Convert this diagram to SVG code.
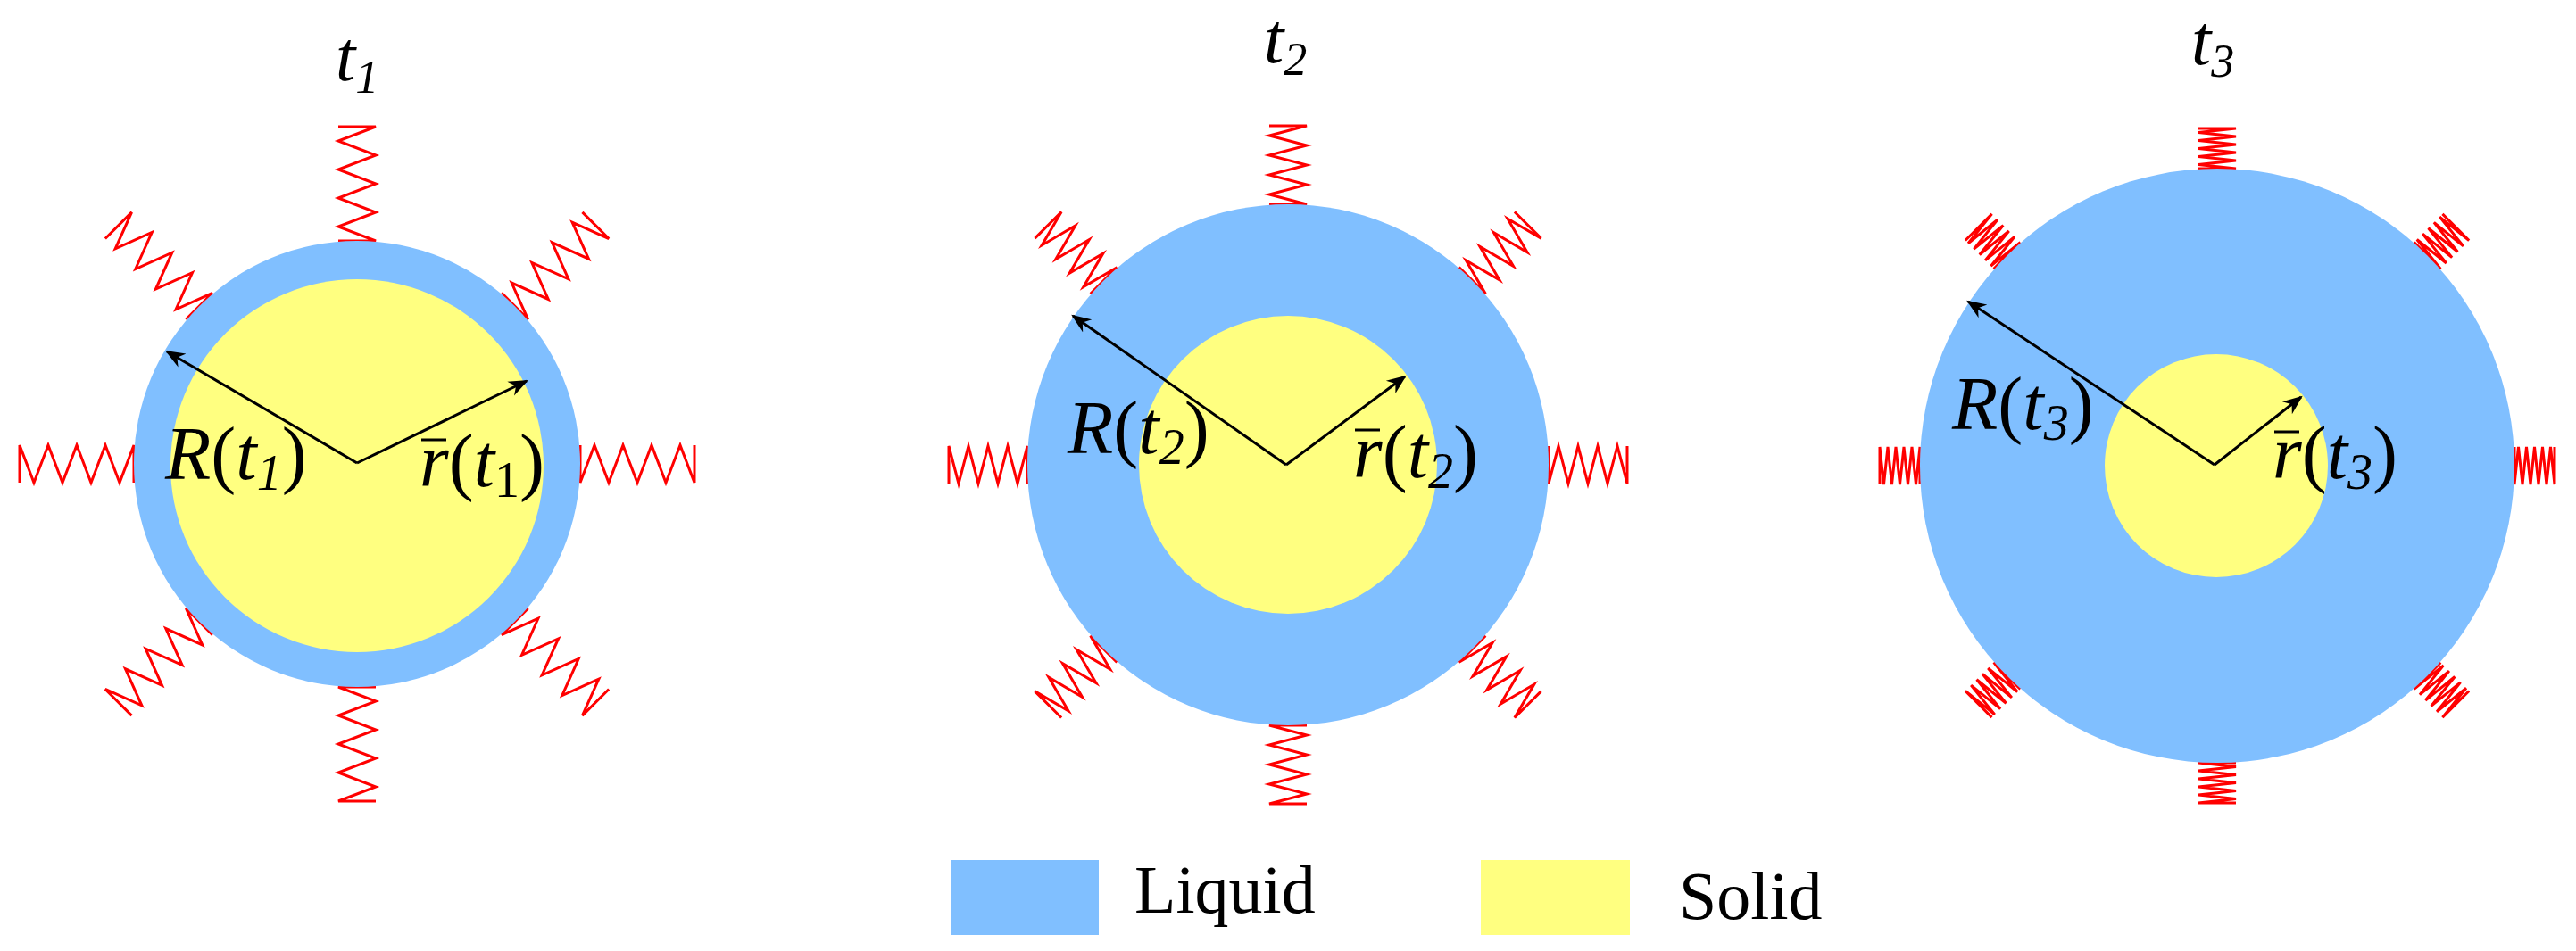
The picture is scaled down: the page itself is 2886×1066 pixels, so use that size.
<svg xmlns="http://www.w3.org/2000/svg" width="2886" height="1066" viewBox="0 0 2886 1066">
<style>
.liq{fill:#80bfff}.sol{fill:#ffff80}
.sp{fill:none;stroke:#ff0000;stroke-width:3;stroke-linejoin:miter}
.ar{stroke:#000;stroke-width:3;fill:none}
.ov{stroke:#000;stroke-width:3}
.i{font-style:italic}
.f{font-family:'Liberation Serif','Times New Roman','DejaVu Serif',serif}
</style>
<defs>
<marker id="ah" viewBox="0 0 10 10" refX="9" refY="5" markerWidth="22" markerHeight="22" markerUnits="userSpaceOnUse" orient="auto"><path d="M0,1 L10,5 L0,9 L3,5 Z" fill="#000"/></marker>
<path id="s1" class="sp" d="M0,-21 L0,21 L16,-21 L32,21 L48,-21 L64,21 L80,-21 L96,21 L112,-21 L128,21 L128,-21"/>
<path id="s2" class="sp" d="M0,-21 L0,21 L11,-21 L22,21 L33,-21 L44,21 L55,-21 L66,21 L77,-21 L88,21 L88,-21"/>
<path id="s3" class="sp" d="M0,-21 L0,21 L4.5,-21 L9,21 L13.5,-21 L18,21 L22.5,-21 L27,21 L31.5,-21 L36,21 L40.5,-21 L45,21 L45,-21"/>
</defs>

<g id="stage1">
<text class="f" font-size="80" font-style="italic" x="376" y="90">t<tspan font-size="52" dy="14">1</tspan></text>
<g id="springs1" transform="translate(400,520)">
<use href="#s1" transform="rotate(0) translate(250,0)"/>
<use href="#s1" transform="rotate(45) translate(250,0)"/>
<use href="#s1" transform="rotate(90) translate(250,0)"/>
<use href="#s1" transform="rotate(135) translate(250,0)"/>
<use href="#s1" transform="rotate(180) translate(250,0)"/>
<use href="#s1" transform="rotate(225) translate(250,0)"/>
<use href="#s1" transform="rotate(270) translate(250,0)"/>
<use href="#s1" transform="rotate(315) translate(250,0)"/>
</g>
<circle class="liq" cx="400" cy="520" r="250"/>
<circle class="sol" cx="400" cy="522" r="209"/>
</g>

<g id="stage2">
<text class="f" font-size="80" font-style="italic" x="1416" y="70">t<tspan font-size="52" dy="14">2</tspan></text>
<g transform="translate(1443,521)">
<use href="#s2" transform="rotate(0) translate(292,0)"/>
<use href="#s2" transform="rotate(45) translate(292,0)"/>
<use href="#s2" transform="rotate(90) translate(292,0)"/>
<use href="#s2" transform="rotate(135) translate(292,0)"/>
<use href="#s2" transform="rotate(180) translate(292,0)"/>
<use href="#s2" transform="rotate(225) translate(292,0)"/>
<use href="#s2" transform="rotate(270) translate(292,0)"/>
<use href="#s2" transform="rotate(315) translate(292,0)"/>
</g>
<circle class="liq" cx="1443" cy="521" r="292"/>
<circle class="sol" cx="1443" cy="521" r="167"/>
</g>

<g id="stage3">
<text class="f" font-size="80" font-style="italic" x="2455" y="72">t<tspan font-size="52" dy="14">3</tspan></text>
<g transform="translate(2484,522)">
<use href="#s3" transform="rotate(0) translate(333,0)"/>
<use href="#s3" transform="rotate(45) translate(333,0)"/>
<use href="#s3" transform="rotate(90) translate(333,0)"/>
<use href="#s3" transform="rotate(135) translate(333,0)"/>
<use href="#s3" transform="rotate(180) translate(333,0)"/>
<use href="#s3" transform="rotate(225) translate(333,0)"/>
<use href="#s3" transform="rotate(270) translate(333,0)"/>
<use href="#s3" transform="rotate(315) translate(333,0)"/>
</g>
<circle class="liq" cx="2484" cy="522" r="333"/>
<circle class="sol" cx="2483" cy="522" r="125"/>
</g>

<g id="connectors">
<line class="ar" marker-end="url(#ah)" x1="400" y1="519" x2="187" y2="394"/>
<line class="ar" marker-end="url(#ah)" x1="400" y1="519" x2="590" y2="427"/>
<line class="ar" marker-end="url(#ah)" x1="1441" y1="521" x2="1202" y2="354"/>
<line class="ar" marker-end="url(#ah)" x1="1441" y1="521" x2="1574" y2="422"/>
<line class="ar" marker-end="url(#ah)" x1="2481" y1="521" x2="2205" y2="338"/>
<line class="ar" marker-end="url(#ah)" x1="2481" y1="521" x2="2578" y2="445"/>
</g>

<g id="labels" font-size="84">
<text class="f" x="185" y="537"><tspan class="i">R</tspan>(<tspan class="i">t<tspan font-size="56" dy="12">1</tspan></tspan><tspan dy="-12">)</tspan></text>
<line class="ov" x1="472" y1="493" x2="500" y2="493"/>
<text class="f" x="470" y="545"><tspan class="i">r</tspan>(<tspan class="i">t</tspan><tspan font-size="56" dy="12">1</tspan><tspan dy="-12">)</tspan></text>

<text class="f" x="1196" y="508"><tspan class="i">R</tspan>(<tspan class="i">t<tspan font-size="56" dy="12">2</tspan></tspan><tspan dy="-12">)</tspan></text>
<line class="ov" x1="1518" y1="482" x2="1546" y2="482"/>
<text class="f" x="1516" y="535"><tspan class="i">r</tspan>(<tspan class="i">t<tspan font-size="56" dy="12">2</tspan></tspan><tspan dy="-12">)</tspan></text>

<text class="f" x="2187" y="481"><tspan class="i">R</tspan>(<tspan class="i">t<tspan font-size="56" dy="12">3</tspan></tspan><tspan dy="-12">)</tspan></text>
<line class="ov" x1="2548" y1="484" x2="2576" y2="484"/>
<text class="f" x="2546" y="536"><tspan class="i">r</tspan>(<tspan class="i">t<tspan font-size="56" dy="12">3</tspan></tspan><tspan dy="-12">)</tspan></text>
</g>

<g id="legend" font-size="76">
<rect class="liq" x="1065" y="964" width="166" height="84"/>
<text class="f" x="1271" y="1023">Liquid</text>
<rect class="sol" x="1659" y="964" width="167" height="84"/>
<text class="f" x="1881" y="1030">Solid</text>
</g>
</svg>
